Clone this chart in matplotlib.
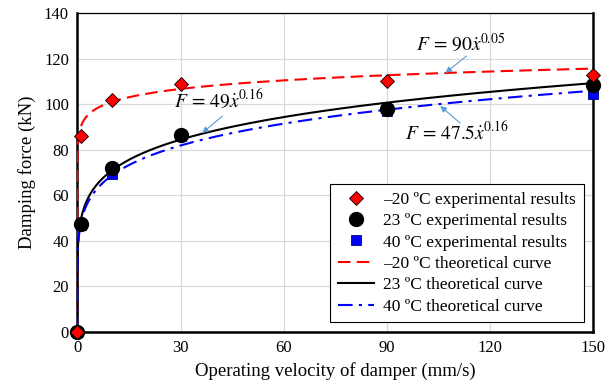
import numpy as np
import matplotlib
matplotlib.use("Agg")
import matplotlib.pyplot as plt

plt.rcParams['font.family'] = ['Liberation Serif', 'DejaVu Serif']
plt.rcParams['mathtext.fontset'] = 'stix'

vel = [0, 1, 10, 30, 90, 150]
f_m20 = [0, 86, 102, 109, 110, 113]
f_23 = [0, 47.5, 72, 86.5, 98, 108.5]
f_40 = [0, 47, 69.5, 86, 97, 104.5]

# theoretical curves F = c * v^a (coefficients as given on the chart)
coef = {'m20': (90, 0.05), '23': (49, 0.16), '40': (47.5, 0.16)}

v = np.concatenate([[0], np.geomspace(1e-4, 150, 400)])

def curve(c, a):
    return c * v ** a

fig = plt.figure(figsize=(6.15, 3.89), dpi=100)
ax = fig.add_axes([0.1257, 0.1465, 0.839, 0.820])

ax.plot(vel, f_m20, ls='none', marker='D', ms=7.5, mfc='#ff0000', mec='black', mew=0.6,
        clip_on=False, zorder=6, label='–20 ºC experimental results')
ax.plot(vel, f_23, ls='none', marker='o', ms=10, mfc='black', mec='black',
        clip_on=False, zorder=5, label='23 ºC experimental results')
ax.plot(vel, f_40, ls='none', marker='s', ms=6.5, mfc='#0000ff', mec='#000080', mew=0.6,
        clip_on=False, zorder=4, label='40 ºC experimental results')

ax.plot(v, curve(*coef['m20']), color='#ff0000', lw=1.5, ls=(0, (6, 3)), zorder=3,
        label='–20 ºC theoretical curve')
ax.plot(v, curve(*coef['23']), color='black', lw=1.5, zorder=3,
        label='23 ºC theoretical curve')
ax.plot(v, curve(*coef['40']), color='#0000ff', lw=1.5, ls=(0, (7, 3, 1.5, 3)), zorder=3,
        label='40 ºC theoretical curve')

arrow = dict(arrowstyle='-|>', color='#5b9bd5', lw=0.8, mutation_scale=9,
             shrinkA=0, shrinkB=0)
ax.text(111.3, 126.5, r'$F\,=\,90\dot{x}^{0.05}$', ha='center', va='center', fontsize=14)
ax.annotate('', xy=(107, 113.7), xytext=(113.1, 121.1), arrowprops=arrow)
ax.text(41, 102, r'$F\,=\,49\dot{x}^{0.16}$', ha='center', va='center', fontsize=14)
ax.annotate('', xy=(36.3, 87.3), xytext=(42.2, 94.8), arrowprops=arrow)
ax.text(110.5, 87.5, r'$F\,=\,47.5\dot{x}^{0.16}$', ha='center', va='center', fontsize=14)
ax.annotate('', xy=(105.5, 99.2), xytext=(111.3, 91.7), arrowprops=arrow)

ax.set_xlim(0, 150)
ax.set_ylim(0, 140)
ax.set_xticks(range(0, 151, 30))
ax.set_yticks(range(0, 141, 20))
ax.grid(True, color='#d9d9d9', lw=0.9)
ax.set_axisbelow(True)
ax.tick_params(length=0, labelsize=12, pad=6)
for side in ['left', 'bottom', 'right']:
    ax.spines[side].set_linewidth(1.8)
ax.spines['top'].set_linewidth(0.9)

ax.set_xlabel('Operating velocity of damper (mm/s)', fontsize=13.5, labelpad=4)
ax.set_ylabel('Damping force (kN)', fontsize=13.5, labelpad=6)

leg = ax.legend(loc='lower right', borderaxespad=0.55,
                fontsize=12.5, frameon=True, fancybox=False,
                edgecolor='black', framealpha=1,
                handlelength=2.1, labelspacing=0.3, borderpad=0.45, handletextpad=0.5)
leg.get_frame().set_linewidth(0.8)

fig.savefig('out.png', dpi=100)
